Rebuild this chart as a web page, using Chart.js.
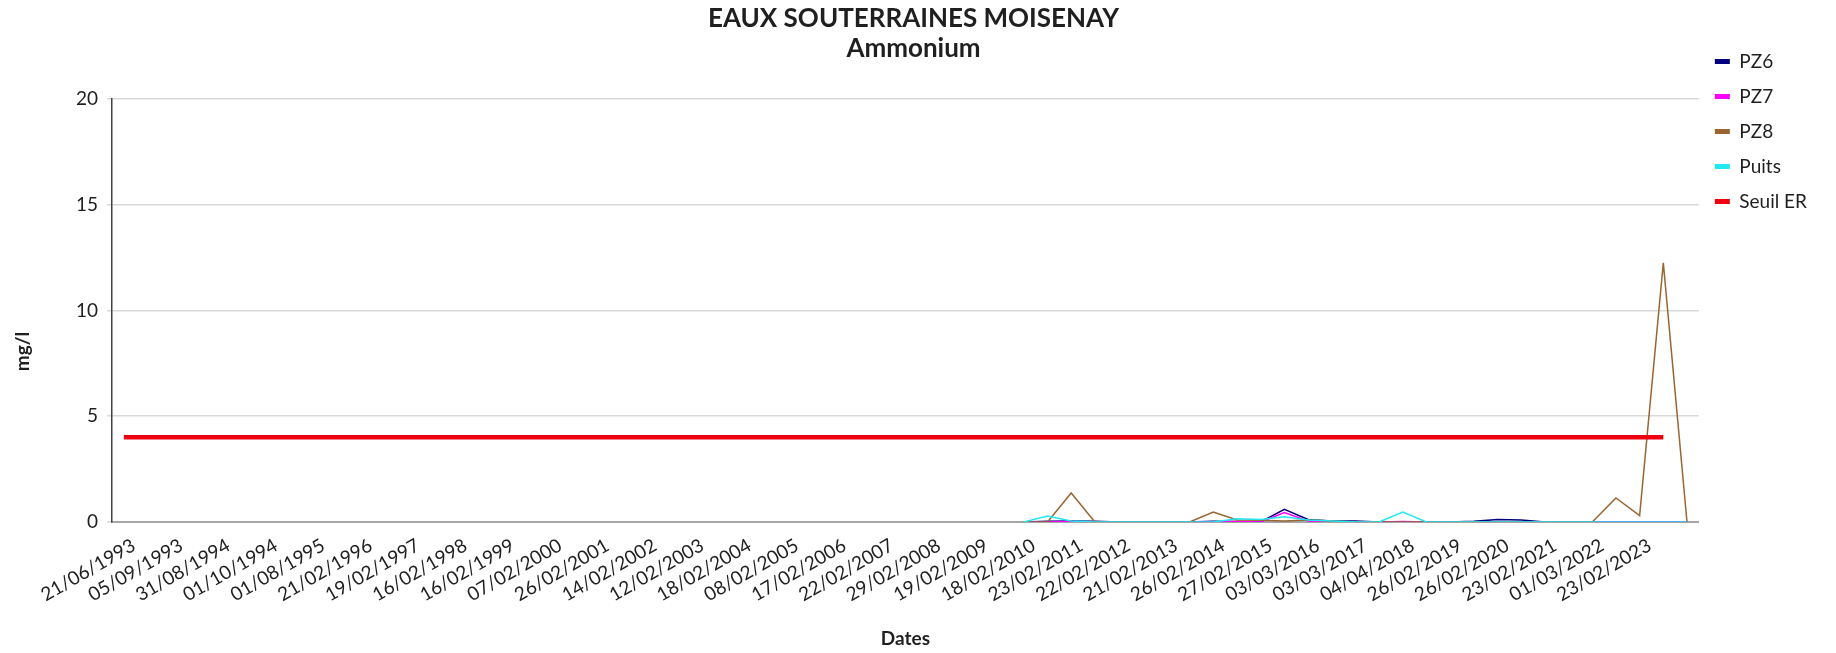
<!DOCTYPE html>
<html><head><meta charset="utf-8">
<script src="https://cdn.jsdelivr.net/npm/chart.js@4.4.1/dist/chart.umd.min.js"></script>
<style>html,body{margin:0;padding:0;background:#fff}</style>
</head><body>
<canvas id="c" width="1836" height="653"></canvas>
<script>
const titleLines = ['EAUX SOUTERRAINES MOISENAY', 'Ammonium'];
const xAxisTitle = 'Dates';
const yAxisTitle = 'mg/l';
const categories = [
  '21/06/1993','26/07/1993','05/09/1993','15/02/1994','31/08/1994','14/09/1994','01/10/1994','20/02/1995','01/08/1995','05/09/1995',
  '21/02/1996','04/09/1996','19/02/1997','03/09/1997','16/02/1998','02/09/1998','16/02/1999','01/09/1999','07/02/2000','06/09/2000',
  '26/02/2001','05/09/2001','14/02/2002','04/09/2002','12/02/2003','03/09/2003','18/02/2004','01/09/2004','08/02/2005','07/09/2005',
  '17/02/2006','06/09/2006','22/02/2007','05/09/2007','29/02/2008','03/09/2008','19/02/2009','02/09/2009','18/02/2010','01/09/2010',
  '23/02/2011','07/09/2011','22/02/2012','05/09/2012','21/02/2013','04/09/2013','26/02/2014','03/09/2014','27/02/2015','02/09/2015',
  '03/03/2016','07/09/2016','03/03/2017','06/09/2017','04/04/2018','05/09/2018','26/02/2019','04/09/2019','26/02/2020','02/09/2020',
  '23/02/2021','01/09/2021','01/03/2022','07/09/2022','23/02/2023','06/09/2023',''
];
const pz6 = [
  null,null,null,null,null,null,null,null,null,null,
  null,null,null,null,null,null,null,null,null,null,
  null,null,null,null,null,null,null,null,null,null,
  null,null,null,null,null,null,null,null,
  0,0.03,0.05,0.03,0,0,0,0,0.03,0.02,
  0,0.6,0.12,0.05,0.05,0,0,0,0,0.03,
  0.12,0.1,0,0,0,0,0,0,0
];
const pz7 = [
  null,null,null,null,null,null,null,null,null,null,
  null,null,null,null,null,null,null,null,null,null,
  null,null,null,null,null,null,null,null,null,null,
  null,null,null,null,null,null,null,null,
  0,0,0.02,0,0,0,0,0,0,0.02,
  0,0.45,0.05,0,0,0,0.02,0,0,0,
  0,0,0,0,0,0,0,0,0
];
const pz8 = [
  null,null,null,null,null,null,null,null,null,null,
  null,null,null,null,null,null,null,null,null,null,
  null,null,null,null,null,null,null,null,null,null,
  null,null,null,null,null,null,null,null,
  0,0,1.37,0,0,0,0,0,0.47,0.1,
  0.08,0.05,0.1,0.05,0,0,0,0,0,0,
  0,0,0,0,0,1.14,0.3,12.25,0
];
const puits = [
  null,null,null,null,null,null,null,null,null,null,
  null,null,null,null,null,null,null,null,null,null,
  null,null,null,null,null,null,null,null,null,null,
  null,null,null,null,null,null,null,null,
  0,0.28,0.05,0,0,0,0,0,0,0.15,
  0.12,0.25,0.1,0.05,0,0,0.47,0,0,0,
  0,0,0,0,0,0,0,0,0
];
const seuilER = [
  4,4,4,4,4,4,4,4,4,4,
  4,4,4,4,4,4,4,4,4,4,
  4,4,4,4,4,4,4,4,4,4,
  4,4,4,4,4,4,4,4,4,4,
  4,4,4,4,4,4,4,4,4,4,
  4,4,4,4,4,4,4,4,4,4,
  4,4,4,4,4,4,null
];
const yTicks = [0, 5, 10, 15, 20];

const FONT = 'Lato, "Open Sans", sans-serif';
const TXT = '#1f1f1f';

// y-axis title, drawn lower than the axis middle as in the reference
const yTitlePlugin = {
  id: 'yTitle',
  afterDraw(chart) {
    const {ctx, chartArea} = chart;
    ctx.save();
    ctx.translate(23, chartArea.top + (chartArea.bottom - chartArea.top) * 0.597);
    ctx.rotate(-Math.PI / 2);
    ctx.font = 'bold 19px ' + FONT;
    ctx.fillStyle = TXT;
    ctx.textAlign = 'center';
    ctx.textBaseline = 'middle';
    ctx.fillText(yAxisTitle, 0, 0);
    ctx.restore();
  }
};

new Chart(document.getElementById('c'), {
  type: 'line',
  data: {
    labels: categories,
    datasets: [
      {label: 'PZ6', data: pz6, borderColor: '#000080', backgroundColor: '#000080', borderWidth: 1.5, order: 5},
      {label: 'PZ7', data: pz7, borderColor: '#ff00ff', backgroundColor: '#ff00ff', borderWidth: 1.5, order: 4},
      {label: 'PZ8', data: pz8, borderColor: '#996633', backgroundColor: '#996633', borderWidth: 1.5, order: 3},
      {label: 'Puits', data: puits, borderColor: '#22e8f2', backgroundColor: '#22e8f2', borderWidth: 1.5, order: 2},
      {label: 'Seuil ER', data: seuilER, borderColor: '#ee0010', backgroundColor: '#ee0010', borderWidth: 4.5, order: 1}
    ]
  },
  options: {
    responsive: false,
    animation: false,
    layout: {padding: {left: 10, right: 19, top: 0, bottom: 0}},
    elements: {point: {radius: 0, hoverRadius: 0}, line: {tension: 0}},
    plugins: {
      tooltip: {enabled: false},
      title: {
        display: true, text: titleLines, color: TXT,
        font: {family: FONT, size: 26, weight: 'bold', lineHeight: 1.17},
        padding: {top: 3, bottom: 35}
      },
      legend: {
        position: 'right', align: 'start',
        title: {display: true, text: '', font: {size: 10, lineHeight: 1.2}, padding: {top: 24, bottom: 0}},
        labels: {
          boxWidth: 15, boxHeight: 5, padding: 16, color: TXT,
          font: {family: FONT, size: 19},
          sort: (a, b) => a.datasetIndex - b.datasetIndex,
          generateLabels: (chart) => Chart.defaults.plugins.legend.labels.generateLabels(chart).map(l => Object.assign(l, {lineWidth: 0}))
        }
      }
    },
    scales: {
      x: {
        type: 'category', offset: true,
        afterFit: (s) => { s.height = 131; },
        grid: {display: false, drawTicks: false},
        border: {display: true, color: '#a6a6a6', width: 2},
        ticks: {
          autoSkip: false, minRotation: 30, maxRotation: 30, padding: 12, labelOffset: 10,
          color: TXT, font: {family: FONT, size: 19},
          callback: (v, i) => (i % 2 === 0 ? categories[i] : '')
        },
        title: {display: true, text: xAxisTitle, color: TXT, font: {family: FONT, size: 19, weight: 'bold'}, padding: {top: 0, bottom: 3}}
      },
      y: {
        min: 0, max: 20,
        afterFit: (s) => { s.width = 102; },
        afterBuildTicks: (s) => { s.ticks = yTicks.map(v => ({value: v})); },
        grid: {color: '#d9d9d9', lineWidth: 1.5, tickLength: 5, tickColor: '#d9d9d9'},
        border: {display: true, color: '#404040', width: 1.5},
        ticks: {padding: 9, color: TXT, font: {family: FONT, size: 19}},
        title: {display: false, text: yAxisTitle}
      }
    }
  },
  plugins: [yTitlePlugin]
});
</script>
</body></html>
